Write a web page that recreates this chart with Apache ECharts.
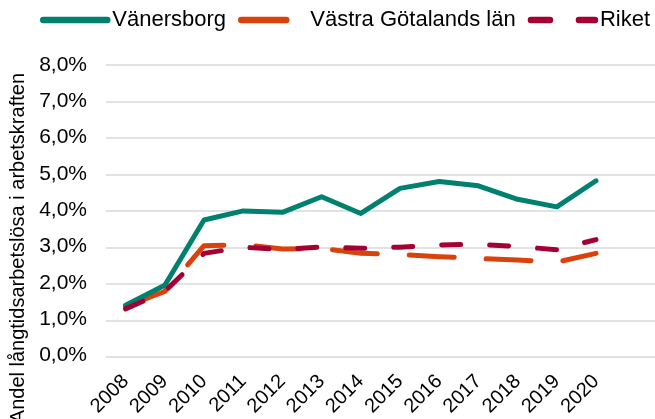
<!DOCTYPE html>
<html><head><meta charset="utf-8">
<script src="https://cdn.jsdelivr.net/npm/echarts@6/dist/echarts.min.js"></script>
<style>html,body{margin:0;padding:0;background:#fff}#c{width:655px;height:419px}</style>
</head><body><div id="c"></div>
<script>
const years = ['2008','2009','2010','2011','2012','2013','2014','2015','2016','2017','2018','2019','2020'];
const vanersborg = [1.38, 1.93, 3.73, 3.98, 3.94, 4.37, 3.91, 4.60, 4.79, 4.67, 4.30, 4.09, 4.81];
const vastraGotaland = [1.35, 1.76, 3.02, 3.05, 2.93, 2.95, 2.81, 2.78, 2.72, 2.67, 2.63, 2.57, 2.81];
const riket = [1.28, 1.76, 2.81, 2.98, 2.91, 2.99, 2.95, 2.98, 3.04, 3.06, 3.00, 2.91, 3.19];
const seriesNames = ['Vänersborg', 'Västra Götalands län', 'Riket'];
const yTitle = 'Andel långtidsarbetslösa i arbetskraften';

const font = 'Liberation Sans, Arial, sans-serif';
const chart = echarts.init(document.getElementById('c'), null, {renderer: 'canvas'});
const fmt = v => v.toFixed(1).replace('.', ',') + '%';
chart.setOption({
  animation: false,
  textStyle: {fontFamily: font},
  legend: {
    left: 40, top: 9, padding: 0, itemWidth: 64, itemHeight: 14, itemGap: 12,
    textStyle: {fontSize: 22, color: '#000', fontFamily: font},
    itemStyle: {opacity: 0},
    lineStyle: {width: 6.5, cap: 'round'},
    data: seriesNames
  },
  grid: [
    {left: 106, top: 65, bottom: 62, right: 39.4, containLabel: false},
    {left: 106, top: 65, bottom: 62, right: 0, containLabel: false}
  ],
  xAxis: [
    {type: 'category', gridIndex: 0, data: years, boundaryGap: true,
     axisLine: {show: false}, axisTick: {show: false},
     axisLabel: {rotate: 45, fontSize: 20, color: '#000', margin: 23, interval: 0, fontFamily: font}},
    {type: 'value', gridIndex: 1, show: false}
  ],
  yAxis: [
    {type: 'value', gridIndex: 0, min: 0, max: 8, interval: 1,
     splitLine: {show: false}, axisLine: {show: false}, axisTick: {show: false},
     axisLabel: {formatter: fmt, fontSize: 21, color: '#000', margin: 19, fontFamily: font}},
    {type: 'value', gridIndex: 1, min: 0, max: 8, interval: 1,
     axisLabel: {show: false}, axisLine: {show: false}, axisTick: {show: false},
     splitLine: {show: true, lineStyle: {color: '#d9d9d9', width: 1.5}}}
  ],
  graphic: [{
    type: 'text', left: 8, top: 73, rotation: Math.PI / 2,
    style: {text: yTitle, font: '20px ' + font, fill: '#000'}
  }],
  series: [
    {name: seriesNames[0], type: 'line', data: vanersborg, symbol: 'none', z: 3,
     lineStyle: {color: '#00806E', width: 5, cap: 'round', join: 'round'}, itemStyle: {color: '#00806E'}},
    {name: seriesNames[1], type: 'line', data: vastraGotaland, symbol: 'none', z: 2,
     lineStyle: {color: '#D9420B', width: 5, type: [45, 32], cap: 'round', join: 'round'}, itemStyle: {color: '#D9420B'}},
    {name: seriesNames[2], type: 'line', data: riket, symbol: 'none', z: 4,
     lineStyle: {color: '#A50034', width: 5, type: [19, 29], cap: 'round', join: 'round'}, itemStyle: {color: '#A50034'}}
  ]
});
</script></body></html>
